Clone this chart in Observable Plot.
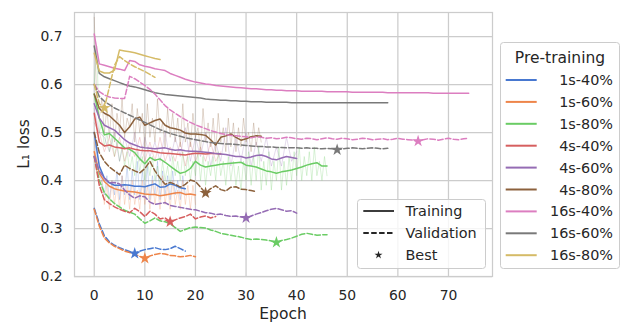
<!DOCTYPE html>
<html><head><meta charset="utf-8">
<script src="https://cdn.jsdelivr.net/npm/d3@7"></script>
<script src="https://cdn.jsdelivr.net/npm/@observablehq/plot@0.6"></script>
<style>body{margin:0;background:#fff}#chart{width:624px;height:324px}</style>
</head><body><div id="chart"></div>
<script>
const runs = ["1s-40%","1s-60%","1s-80%","4s-40%","4s-60%","4s-80%","16s-40%","16s-60%","16s-80%"];
const colors = ["#4878d0","#ee854a","#6acc64","#d65f5f","#956cb4","#8c613c","#dc7ec0","#797979","#d5bb67"];
const xTicks = [0,10,20,30,40,50,60,70];
const yTicks = [0.2,0.3,0.4,0.5,0.6,0.7];

const train1s40 = [0.50,0.43,0.405,0.395,0.390,0.390,0.391,0.390,0.388,0.388,0.387,0.390,0.393,0.386,0.387,0.393,0.390,0.385,0.383];
const val1s40 = [0.342,0.310,0.285,0.272,0.265,0.260,0.256,0.252,0.248,0.253,0.256,0.258,0.260,0.257,0.256,0.258,0.263,0.258,0.253];
const raw1s40 = [0.50,0.44,0.41,0.40,0.37,0.41,0.36,0.40,0.37,0.42,0.36,0.41,0.37,0.43,0.36,0.42,0.37,0.44,0.36,0.42,0.37,0.43,0.36,0.41,0.37,0.44,0.36,0.42,0.37,0.41,0.36,0.42,0.37,0.40,0.36,0.41,0.37];

const train1s60 = [0.46,0.415,0.398,0.388,0.383,0.380,0.378,0.377,0.376,0.374,0.372,0.371,0.371,0.368,0.370,0.372,0.374,0.375,0.371,0.372,0.370];
const val1s60 = [0.340,0.305,0.280,0.270,0.263,0.258,0.253,0.250,0.246,0.242,0.238,0.243,0.246,0.248,0.247,0.244,0.243,0.241,0.242,0.244,0.241];
const raw1s60 = [0.48,0.42,0.39,0.40,0.35,0.39,0.34,0.40,0.35,0.39,0.34,0.41,0.35,0.39,0.34,0.40,0.35,0.38,0.34,0.40,0.35,0.39,0.34,0.40,0.35,0.39,0.34,0.41,0.35,0.39,0.34,0.40,0.35,0.38,0.34,0.40,0.35,0.39,0.34,0.39,0.35];

const train1s80 = [0.58,0.53,0.495,0.498,0.488,0.478,0.468,0.465,0.458,0.445,0.435,0.448,0.442,0.445,0.438,0.430,0.422,0.415,0.418,0.425,0.440,0.432,0.428,0.430,0.432,0.434,0.435,0.436,0.437,0.438,0.432,0.430,0.428,0.424,0.420,0.418,0.415,0.418,0.420,0.422,0.425,0.428,0.432,0.435,0.437,0.430,0.430];
const val1s80 = [0.450,0.400,0.375,0.362,0.352,0.345,0.338,0.334,0.330,0.320,0.311,0.316,0.322,0.316,0.314,0.310,0.302,0.294,0.298,0.302,0.303,0.302,0.301,0.297,0.294,0.290,0.288,0.286,0.284,0.282,0.279,0.277,0.278,0.277,0.276,0.274,0.271,0.275,0.277,0.280,0.284,0.288,0.290,0.288,0.286,0.287,0.287];
const raw1s80 = [0.60,0.68,0.50,0.52,0.47,0.50,0.46,0.49,0.45,0.48,
 0.44,0.47,0.43,0.46,0.42,0.45,0.41,0.46,0.42,0.45,
 0.40,0.44,0.41,0.45,0.40,0.43,0.39,0.44,0.40,0.43,
 0.39,0.45,0.41,0.44,0.40,0.46,0.41,0.45,0.40,0.44,
 0.41,0.46,0.40,0.45,0.39,0.44,0.41,0.45,0.40,0.46,
 0.41,0.44,0.39,0.45,0.40,0.44,0.39,0.43,0.38,0.44,
 0.40,0.46,0.39,0.45,0.40,0.47,0.38,0.44,0.39,0.46,
 0.38,0.44,0.40,0.47,0.38,0.44,0.39,0.45,0.40,0.46,
 0.41,0.47,0.40,0.45,0.41,0.46,0.40,0.47,0.41,0.44,
 0.40,0.45,0.41];

const train4s40 = [0.54,0.48,0.472,0.474,0.470,0.468,0.466,0.468,0.465,0.463,0.462,0.462,0.460,0.458,0.457,0.456,0.455,0.454,0.453,0.455,0.457,0.456,0.455,0.456,0.456,0.455];
const val4s40 = [0.450,0.390,0.360,0.352,0.345,0.340,0.336,0.333,0.342,0.335,0.325,0.336,0.330,0.320,0.322,0.314,0.318,0.322,0.325,0.330,0.320,0.324,0.326,0.322,0.325];
const raw4s40 = [0.52,0.50,0.46,0.49,0.45,0.49,0.44,0.48,0.45,0.49,0.44,0.48,0.44,0.49,0.44,0.47,0.44,0.48,0.43,0.48,0.44,0.47,0.44,0.48,0.44,0.46];

const train4s60 = [0.56,0.53,0.515,0.510,0.505,0.495,0.485,0.478,0.474,0.470,0.468,0.467,0.466,0.467,0.468,0.465,0.463,0.464,0.462,0.461,0.461,0.460,0.459,0.458,0.456,0.455,0.454,0.452,0.450,0.450,0.447,0.449,0.452,0.453,0.450,0.445,0.443,0.447,0.450,0.448,0.446];
const val4s60 = [0.450,0.420,0.405,0.395,0.396,0.393,0.380,0.370,0.363,0.368,0.366,0.355,0.350,0.352,0.354,0.348,0.346,0.344,0.342,0.340,0.339,0.336,0.333,0.332,0.329,0.330,0.327,0.325,0.326,0.324,0.322,0.326,0.330,0.333,0.337,0.340,0.342,0.339,0.336,0.337,0.332];
const raw4s60 = [0.55,0.50,0.49,0.46,0.50,0.44,0.49,0.45,0.50,0.44,0.49,0.45,0.48,0.44,0.50,0.44,0.49,0.45,0.51,0.44,0.49,0.45,0.50,0.43,0.48,0.44,0.51,0.43,0.49,0.44,0.50,0.43,0.48,0.44,0.49,0.43,0.47,0.43,0.49,0.44,0.46];

const train4s80 = [0.58,0.55,0.54,0.535,0.525,0.515,0.500,0.512,0.528,0.532,0.515,0.520,0.525,0.528,0.515,0.510,0.508,0.505,0.499,0.497,0.497,0.496,0.494,0.485,0.474,0.490,0.493,0.497,0.490,0.484,0.487,0.491,0.493,0.492];
const val4s80 = [0.500,0.458,0.440,0.428,0.420,0.412,0.432,0.425,0.420,0.416,0.425,0.440,0.420,0.405,0.392,0.396,0.392,0.386,0.392,0.401,0.398,0.386,0.374,0.383,0.389,0.381,0.378,0.386,0.387,0.382,0.381,0.379,0.377];
const raw4s80 = [0.74,0.56,0.53,0.57,0.50,0.55,0.49,0.56,0.48,0.54,
 0.50,0.57,0.49,0.53,0.51,0.56,0.48,0.55,0.50,0.54,
 0.47,0.56,0.49,0.53,0.48,0.57,0.50,0.52,0.47,0.55,
 0.49,0.54,0.48,0.53,0.47,0.56,0.48,0.52,0.47,0.54,
 0.49,0.51,0.46,0.55,0.48,0.52,0.47,0.53,0.46,0.54,
 0.48,0.51,0.46,0.53,0.47,0.52,0.46,0.51,0.47,0.53,
 0.48,0.50,0.46,0.52,0.47,0.51,0.48];

const train16s40 = [0.705,0.643,0.640,0.637,0.634,0.632,0.629,0.650,0.648,0.641,0.638,0.636,0.633,0.631,0.629,0.623,0.619,0.615,0.611,0.608,
 0.605,0.603,0.601,0.600,0.598,0.597,0.596,0.595,0.594,0.593,
 0.592,0.591,0.591,0.590,0.589,0.589,0.588,0.588,0.587,0.587,
 0.587,0.586,0.586,0.586,0.586,0.586,0.585,0.585,0.585,0.585,
 0.585,0.584,0.584,0.584,0.584,0.584,0.584,0.584,0.583,0.583,
 0.583,0.583,0.583,0.583,0.583,0.583,0.583,0.582,0.582,0.582,
 0.582,0.582,0.582,0.582,0.582];
const val16s40 = [0.600,0.585,0.578,0.574,0.572,0.571,0.571,0.617,0.612,0.605,0.598,0.590,0.580,0.568,0.556,0.547,0.540,0.533,0.527,0.521,
 0.516,0.512,0.508,0.504,0.501,0.498,0.496,0.494,0.493,0.492,
 0.491,0.489,0.491,0.490,0.488,0.489,0.487,0.488,0.490,0.489,
 0.487,0.486,0.488,0.487,0.485,0.487,0.489,0.487,0.486,0.488,
 0.487,0.485,0.486,0.488,0.487,0.485,0.486,0.487,0.485,0.486,
 0.488,0.486,0.485,0.484,0.482,0.485,0.487,0.486,0.484,0.486,
 0.488,0.486,0.485,0.487,0.488];

const train16s60 = [0.680,0.623,0.616,0.612,0.608,0.604,0.600,0.597,0.595,0.592,
 0.589,0.586,0.583,0.581,0.579,0.578,0.577,0.576,0.575,0.574,
 0.573,0.572,0.570,0.569,0.568,0.567,0.567,0.566,0.566,0.565,
 0.565,0.564,0.564,0.564,0.563,0.563,0.563,0.563,0.563,0.562,
 0.562,0.562,0.562,0.562,0.562,0.562,0.562,0.562,0.562,0.562,
 0.562,0.562,0.562,0.562,0.562,0.562,0.562,0.562,0.562];
const val16s60 = [0.600,0.575,0.565,0.558,0.551,0.546,0.541,0.536,0.531,0.526,
 0.521,0.516,0.511,0.506,0.502,0.498,0.495,0.492,0.489,0.487,
 0.485,0.483,0.481,0.479,0.478,0.477,0.476,0.476,0.475,0.474,
 0.473,0.472,0.471,0.471,0.470,0.470,0.469,0.469,0.468,0.468,
 0.468,0.467,0.468,0.467,0.467,0.466,0.467,0.466,0.464,0.466,
 0.467,0.468,0.467,0.466,0.467,0.468,0.467,0.466,0.467];

const train16s80 = [0.665,0.628,0.624,0.624,0.630,0.672,0.670,0.668,0.666,0.663,0.660,0.657,0.654,0.652];
const val16s80 = [0.600,0.560,0.551,0.595,0.640,0.658,0.650,0.643,0.637,0.632,0.627,0.621,0.615];

const trainSets = [train1s40,train1s60,train1s80,train4s40,train4s60,train4s80,train16s40,train16s60,train16s80];
const valSets = [val1s40,val1s60,val1s80,val4s40,val4s60,val4s80,val16s40,val16s60,val16s80];
const rawSets = [raw1s40,raw1s60,raw1s80,raw4s40,raw4s60,raw4s80,null,null,null];
const rawSteps = [0.5,0.5,0.5,1,1,0.5,1,1,1];

const trainRows = [], valRows = [], rawRows = [], bestRows = [];
runs.forEach((run, i) => {
  trainSets[i].forEach((v, e) => trainRows.push({run, epoch: e, loss: v}));
  valSets[i].forEach((v, e) => valRows.push({run, epoch: e, loss: v}));
  if (rawSets[i]) rawSets[i].forEach((v, k) => rawRows.push({run, epoch: k * rawSteps[i], loss: v}));
  const b = d3.minIndex(valSets[i]);
  bestRows.push({run, epoch: b, loss: valSets[i][b]});
});

const gridStyle = {stroke: "#cccccc", strokeOpacity: 1, strokeWidth: 1.25};
const plot = Plot.plot({
  width: 624, height: 324,
  marginLeft: 74, marginRight: 132, marginTop: 12, marginBottom: 48,
  x: {domain: [-3.9, 78.7]},
  y: {domain: [0.2, 0.75]},
  color: {domain: runs, range: colors},
  style: {fontFamily: "DejaVu Sans", fontSize: "13.9px", color: "#262626", background: "white", overflow: "visible"},
  marks: [
    Plot.gridX(xTicks, gridStyle),
    Plot.gridY(yTicks, gridStyle),
    Plot.axisX(xTicks, {tickSize: 0, tickPadding: 14, label: null, fontSize: 13.9}),
    Plot.axisY(yTicks, {tickSize: 0, tickPadding: 12, label: null, fontSize: 13.9, tickFormat: d3.format(".1f")}),
    Plot.line(rawRows, {x: "epoch", y: "loss", z: "run", stroke: "run", strokeOpacity: 0.25, strokeWidth: 1, clip: true}),
    Plot.line(trainRows, {x: "epoch", y: "loss", z: "run", stroke: "run", strokeWidth: 1.5, clip: true}),
    Plot.line(valRows, {x: "epoch", y: "loss", z: "run", stroke: "run", strokeWidth: 1.5, strokeDasharray: "5.5,2.4", clip: true}),
    Plot.dot(bestRows, {x: "epoch", y: "loss", fill: "run", symbol: "star", r: 3.8, stroke: "none"}),
    Plot.frame({stroke: "#cccccc", strokeWidth: 1.25})
  ]
});
document.getElementById("chart").appendChild(plot);

const svg = d3.select(plot);
const font = "DejaVu Sans";
// axis titles
svg.append("text").attr("x", 283).attr("y", 319).attr("text-anchor", "middle")
  .attr("font-family", font).attr("font-size", 15.5).attr("fill", "#262626").text("Epoch");
svg.append("text").attr("transform", "translate(29,144) rotate(-90)").attr("text-anchor", "middle")
  .attr("font-family", font).attr("font-size", 15.5).attr("fill", "#262626").text("L\u2081 loss");

// run legend
const lg = svg.append("g");
lg.append("rect").attr("x", 500.5).attr("y", 42.5).attr("width", 119).attr("height", 226).attr("rx", 3)
  .attr("fill", "white").attr("stroke", "#cccccc");
lg.append("text").attr("x", 560).attr("y", 58).attr("text-anchor", "middle").attr("dominant-baseline", "central")
  .attr("font-family", font).attr("font-size", 15.5).attr("fill", "#262626").text("Pre-training");
runs.forEach((run, i) => {
  const y = 80 + i * 21.9;
  lg.append("line").attr("x1", 505.7).attr("x2", 536.7).attr("y1", y).attr("y2", y)
    .attr("stroke", colors[i]).attr("stroke-width", 2);
  lg.append("text").attr("x", 613).attr("y", y).attr("text-anchor", "end").attr("dominant-baseline", "central")
    .attr("font-family", font).attr("font-size", 14.4).attr("fill", "#262626").text(run);
});

// style legend
const sg = svg.append("g");
sg.append("rect").attr("x", 357.5).attr("y", 199.5).attr("width", 128).attr("height", 69).attr("rx", 3)
  .attr("fill", "white").attr("fill-opacity", 0.8).attr("stroke", "#cccccc");
const styles = ["Training", "Validation", "Best"];
styles.forEach((s, i) => {
  const y = 211 + i * 22;
  if (i < 2) {
    sg.append("line").attr("x1", 363.3).attr("x2", 394).attr("y1", y).attr("y2", y)
      .attr("stroke", "#262626").attr("stroke-width", 1.8).attr("stroke-dasharray", i === 1 ? "5.5,2.4" : null);
  } else {
    sg.append("path").attr("transform", `translate(378.5,${y})`).attr("d", d3.symbol(d3.symbolStar, 20)()).attr("fill", "#262626");
  }
  sg.append("text").attr("x", 405.5).attr("y", y).attr("text-anchor", "start").attr("dominant-baseline", "central")
    .attr("font-family", font).attr("font-size", 14.4).attr("fill", "#262626").text(s);
});
</script>
</body></html>
